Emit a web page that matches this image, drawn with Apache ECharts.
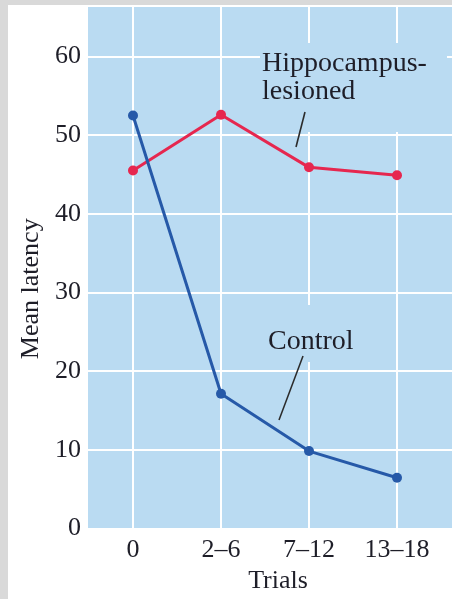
<!DOCTYPE html>
<html>
<head>
<meta charset="utf-8">
<script src="https://cdn.jsdelivr.net/npm/echarts@6/dist/echarts.min.js"></script>
<style>
  html, body { margin: 0; padding: 0; background: #d9d9d9; }
  body { width: 452px; height: 599px; position: relative; overflow: hidden; }
  #chart { position: absolute; left: 8px; top: 5px; width: 444px; height: 594px; background: #ffffff; }
</style>
</head>
<body>
<div id="chart"></div>
<script>
// Trial blocks along the x axis
const trials = ['0', '2–6', '7–12', '13–18'];
// Mean latency per trial block
const controlLatency = [52.5, 17.1, 9.8, 6.4];
const lesionedLatency = [45.5, 52.6, 45.9, 44.9];
// Latency axis ticks
const latencyTicks = [0, 10, 20, 30, 40, 50, 60];

const serif = '"Liberation Serif", "DejaVu Serif", serif';
const ink = '#1e1e28';
const panelBlue = '#badbf2';
const blue = '#2659a8';
const red = '#e6274f';

const yMax = 66.3;

const chart = echarts.init(document.getElementById('chart'), null, { renderer: 'canvas' });

chart.setOption({
  animation: false,
  backgroundColor: 'transparent',
  grid: [
    // full shaded panel with the horizontal rules and latency labels
    { left: 80, right: 0, top: 2, bottom: 70.5, show: true, backgroundColor: panelBlue, borderWidth: 0 },
    // inner frame spanning the first to the last trial block
    { left: 125, right: 55, top: 2, bottom: 70.5 }
  ],
  xAxis: [
    { type: 'value', gridIndex: 0, min: 0, max: 1, show: false },
    {
      type: 'category', gridIndex: 1, data: trials, boundaryGap: false,
      axisLine: { show: false }, axisTick: { show: false },
      splitLine: { show: true, lineStyle: { color: '#ffffff', width: 2 } },
      axisLabel: { fontFamily: serif, fontSize: 26, color: ink, margin: 9 },
      name: 'Trials', nameLocation: 'middle', nameGap: 34,
      nameTextStyle: { fontFamily: serif, fontSize: 26, color: ink, padding: [0, 0, 0, 26] }
    }
  ],
  yAxis: [
    {
      type: 'value', gridIndex: 0, min: 0, max: yMax, interval: 10,
      axisLine: { show: false }, axisTick: { show: false },
      splitLine: { show: true, showMaxLine: false, lineStyle: { color: '#ffffff', width: 2 } },
      axisLabel: {
        fontFamily: serif, fontSize: 26, color: ink, margin: 7, showMaxLabel: false,
        padding: [10, 0, 0, 0],
        formatter: v => (latencyTicks.indexOf(v) >= 0 ? String(v) : '')
      },
      name: 'Mean latency', nameLocation: 'middle', nameGap: 35, nameRotate: 90,
      nameTextStyle: { fontFamily: serif, fontSize: 26, color: ink, padding: [0, 42, 0, 0] }
    },
    { type: 'value', gridIndex: 1, min: 0, max: yMax, show: false }
  ],
  series: [
    {
      name: 'Hippocampus-lesioned', type: 'line', xAxisIndex: 1, yAxisIndex: 1,
      data: lesionedLatency, symbol: 'circle', symbolSize: 10, clip: false, z: 3,
      lineStyle: { color: red, width: 3 }, itemStyle: { color: red }
    },
    {
      name: 'Control', type: 'line', xAxisIndex: 1, yAxisIndex: 1,
      data: controlLatency, symbol: 'circle', symbolSize: 10, clip: false, z: 4,
      lineStyle: { color: blue, width: 3 }, itemStyle: { color: blue }
    }
  ],
  graphic: [
    // label patches that mask the rules behind the callouts
    { type: 'rect', shape: { x: 252, y: 38, width: 187, height: 89 }, style: { fill: panelBlue }, z: 1 },
    { type: 'rect', shape: { x: 254, y: 300, width: 96, height: 57 }, style: { fill: panelBlue }, z: 1 },
    {
      type: 'text', x: 254, y: 44.5, z: 5,
      style: { text: 'Hippocampus-\nlesioned', fontFamily: serif, fontSize: 28, lineHeight: 28, fill: ink, verticalAlign: 'top' }
    },
    {
      type: 'text', x: 260, y: 322.5, z: 5,
      style: { text: 'Control', fontFamily: serif, fontSize: 28, lineHeight: 28, fill: ink, verticalAlign: 'top' }
    },
    { type: 'line', shape: { x1: 297, y1: 107, x2: 288, y2: 142 }, style: { stroke: '#2b2b2b', lineWidth: 1.6 }, z: 5 },
    { type: 'line', shape: { x1: 295, y1: 351, x2: 271, y2: 415 }, style: { stroke: '#2b2b2b', lineWidth: 1.6 }, z: 5 }
  ]
});
</script>
</body>
</html>
